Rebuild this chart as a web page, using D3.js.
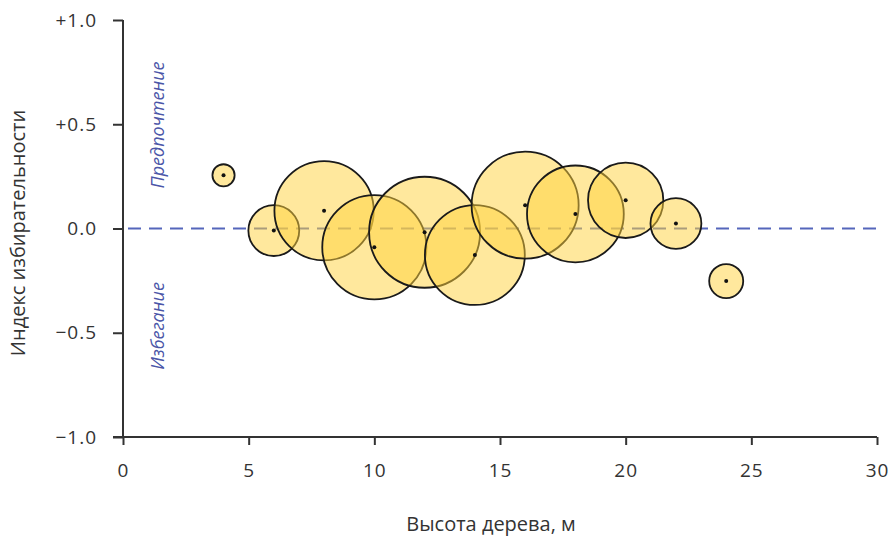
<!DOCTYPE html>
<html>
<head>
<meta charset="utf-8">
<script src="https://cdn.jsdelivr.net/npm/d3@7"></script>
<style>
    body { margin: 0; background: #fff; }
    text { font-family: "Open Sans", sans-serif; fill: #333; }
</style>
</head>
<body>
<svg id="chart" width="893" height="539"></svg>
<script>
// tree height (m), selectivity index, number of observations (bubble area)
const heights = [4, 6, 8, 10, 12, 14, 16, 18, 20, 22, 24];
const index = [0.255, -0.01, 0.085, -0.09, -0.018, -0.127, 0.112, 0.07, 0.135, 0.024, -0.252];
const counts = [4, 21, 80, 88, 100, 81, 93, 76, 46, 21, 9.4];

const xTicks = [0, 5, 10, 15, 20, 25, 30];
const yTicks = [-1, -0.5, 0, 0.5, 1];
const yTickLabels = ["\u22121.0", "\u22120.5", "0.0", "+0.5", "+1.0"];

const svg = d3.select("#chart");

const x = d3.scaleLinear().domain([0, 30]).range([123, 877]);
const y = d3.scaleLinear().domain([-1, 1]).range([437, 20]);
const r = d3.scaleSqrt().domain([0, 100]).range([0, 55.5]);

// zero line
svg.append("line")
    .attr("x1", x(0) + 5)
    .attr("x2", x(30))
    .attr("y1", y(0))
    .attr("y2", y(0))
    .attr("stroke", "#5566bb")
    .attr("stroke-width", 2)
    .attr("stroke-dasharray", "13,8");

// bubbles
let data = heights.map(function (h, i) {
    return {h: h, v: index[i], n: counts[i]};
});

let bubbles = svg.append("g").attr("id", "bubblesG");
bubbles.selectAll("circle.bubble")
    .data(data)
    .enter()
    .append("circle")
    .attr("class", "bubble")
    .attr("cx", function (d) { return x(d.h); })
    .attr("cy", function (d) { return y(d.v); })
    .attr("r", function (d) { return r(d.n); })
    .attr("fill", "#ffd23c")
    .attr("fill-opacity", 0.5)
    .attr("stroke", "#1a1a1a")
    .attr("stroke-width", 1.8);

bubbles.selectAll("circle.dot")
    .data(data)
    .enter()
    .append("circle")
    .attr("class", "dot")
    .attr("cx", function (d) { return x(d.h); })
    .attr("cy", function (d) { return y(d.v); })
    .attr("r", 2)
    .attr("fill", "#111");

// axes
let xAxis = svg.append("g")
    .attr("transform", "translate(0," + y(-1) + ")")
    .call(d3.axisBottom(x).tickValues(xTicks).tickSize(8).tickPadding(19).tickSizeOuter(0));
xAxis.select(".domain").remove();
xAxis.append("line")
    .attr("x1", x(0) - 10)
    .attr("x2", x(30))
    .attr("stroke", "#333")
    .attr("stroke-width", 2);

let yAxis = svg.append("g")
    .attr("transform", "translate(" + x(0) + ",0)")
    .call(d3.axisLeft(y).tickValues(yTicks).tickSize(10).tickPadding(16).tickSizeOuter(0)
        .tickFormat(function (d, i) { return yTickLabels[i]; }));
yAxis.select(".domain").remove();
yAxis.append("line")
    .attr("y1", y(1))
    .attr("y2", y(-1))
    .attr("stroke", "#333")
    .attr("stroke-width", 2);

svg.selectAll(".tick line").attr("stroke", "#333").attr("stroke-width", 2);
svg.selectAll(".tick text")
    .style("font-family", "\"Open Sans\", sans-serif")
    .style("font-size", "19px")
    .style("letter-spacing", "1px")
    .attr("fill", "#333");

// titles
svg.append("text")
    .attr("x", 491)
    .attr("y", 531)
    .attr("text-anchor", "middle")
    .style("font-size", "20px")
    .text("Высота дерева, м");

svg.append("text")
    .attr("transform", "translate(25,233) rotate(-90)")
    .attr("text-anchor", "middle")
    .style("font-size", "20px")
    .text("Индекс избирательности");

// zone labels
svg.append("text")
    .attr("transform", "translate(164,125) rotate(-90)")
    .attr("text-anchor", "middle")
    .style("font-size", "18px")
    .style("font-style", "italic")
    .style("fill", "#4b56a8")
    .text("Предпочтение");

svg.append("text")
    .attr("transform", "translate(164,326) rotate(-90)")
    .attr("text-anchor", "middle")
    .style("font-size", "18px")
    .style("font-style", "italic")
    .style("fill", "#4b56a8")
    .text("Избегание");
</script>
</body>
</html>
